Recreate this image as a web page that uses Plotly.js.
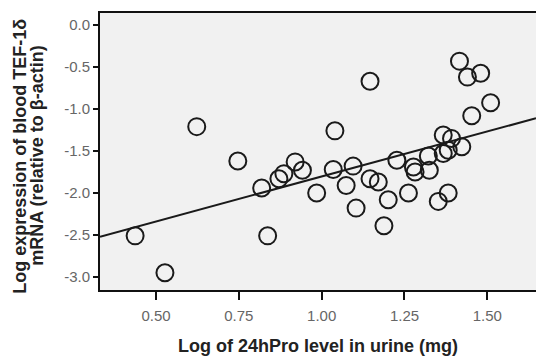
<!DOCTYPE html>
<html>
<head>
<meta charset="utf-8">
<script src="https://cdn.plot.ly/plotly-3.0.1.min.js"></script>
<style>html,body{margin:0;padding:0;background:#fff;}</style>
</head>
<body>
<div id="chart" style="width:536px;height:356px;"></div>
<script>
// Log of 24hPro level in urine (mg)
const proLog = [0.437,0.527,0.623,0.747,0.819,0.837,0.871,0.886,0.920,0.942,
  0.985,1.035,1.040,1.074,1.095,1.104,1.146,1.146,1.171,1.188,
  1.201,1.227,1.262,1.277,1.282,1.322,1.325,1.352,1.367,1.367,
  1.382,1.382,1.392,1.416,1.423,1.440,1.453,1.480,1.510];
// Log expression of blood TEF-1δ mRNA
const tefLog = [-2.51,-2.95,-1.21,-1.62,-1.94,-2.51,-1.83,-1.77,-1.63,-1.73,
  -2.00,-1.72,-1.26,-1.91,-1.68,-2.18,-0.67,-1.83,-1.87,-2.39,
  -2.08,-1.61,-2.00,-1.69,-1.75,-1.56,-1.73,-2.10,-1.31,-1.53,
  -1.49,-2.00,-1.35,-0.43,-1.45,-0.62,-1.08,-0.575,-0.925];
// fitted regression line end points
const fitX = [0.331, 1.647];
const fitY = [-2.52, -1.11];
const xTickVals = [0.5, 0.75, 1.0, 1.25, 1.5];
const xTickText = ["0.50", "0.75", "1.00", "1.25", "1.50"];
const yTickVals = [0, -0.5, -1, -1.5, -2, -2.5, -3];
const yTickText = ["0.0", "-0.5", "-1.0", "-1.5", "-2.0", "-2.5", "-3.0"];
const yTitleLines = ["Log expression of blood TEF-1δ", "mRNA (relative to β-actin)"];
const xTitle = "Log of 24hPro level in urine (mg)";

const traces = [
  {x: fitX, y: fitY, type: 'scatter', mode: 'lines',
   line: {color: '#1a1a1a', width: 2}, hoverinfo: 'skip'},
  {x: proLog, y: tefLog, type: 'scatter', mode: 'markers',
   marker: {symbol: 'circle-open', size: 17, color: '#1a1a1a', line: {width: 2, color: '#1a1a1a'}}}
];
const layout = {
  width: 536, height: 356,
  margin: {l: 100, r: 0, t: 13, b: 66},
  paper_bgcolor: '#ffffff', plot_bgcolor: '#f1f1f1',
  showlegend: false,
  font: {family: 'Liberation Sans, Arial, sans-serif', color: '#222'},
  xaxis: {
    range: [0.331, 1.647], tickvals: xTickVals, ticktext: xTickText,
    showgrid: false, zeroline: false,
    showline: true, linecolor: '#111', linewidth: 2, mirror: true,
    ticks: 'outside', ticklen: 8, tickwidth: 2, tickcolor: '#111',
    ticklabelstandoff: 3,
    tickfont: {size: 15, color: '#666'},
    title: {text: '<b>' + xTitle + '</b>', font: {size: 18, color: '#222'}, standoff: 17}
  },
  yaxis: {
    range: [-3.155, 0.143], tickvals: yTickVals, ticktext: yTickText,
    showgrid: false, zeroline: false,
    showline: true, linecolor: '#111', linewidth: 2,
    ticks: 'outside', ticklen: 5, tickwidth: 2, tickcolor: '#111',
    tickfont: {size: 15, color: '#666'}
  },
  annotations: [
    {text: '<b>' + yTitleLines[0] + '</b>', xref: 'paper', yref: 'paper',
     x: -0.184, y: 0.484, xanchor: 'center', yanchor: 'middle', textangle: -90,
     showarrow: false, font: {size: 18, color: '#222'}},
    {text: '<b>' + yTitleLines[1] + '</b>', xref: 'paper', yref: 'paper',
     x: -0.145, y: 0.484, xanchor: 'center', yanchor: 'middle', textangle: -90,
     showarrow: false, font: {size: 18, color: '#222'}}
  ]
};
Plotly.newPlot('chart', traces, layout, {displayModeBar: false, staticPlot: true});
</script>
</body>
</html>
